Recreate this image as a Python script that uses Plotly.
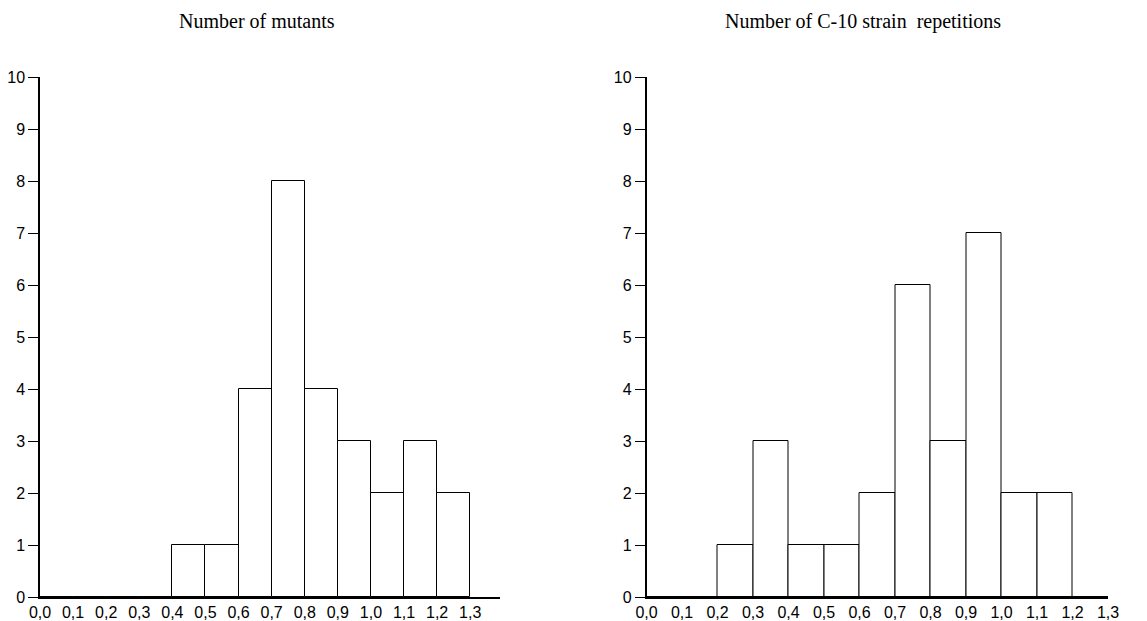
import plotly.graph_objects as go

# Data
bin_starts = [0.0, 0.1, 0.2, 0.3, 0.4, 0.5, 0.6, 0.7, 0.8, 0.9, 1.0, 1.1, 1.2]
mutants = [0, 0, 0, 0, 1, 1, 4, 8, 4, 3, 2, 3, 2]
c10_repetitions = [0, 0, 1, 3, 1, 1, 2, 6, 3, 7, 2, 2, 0]
x_tick_vals = [0.0, 0.1, 0.2, 0.3, 0.4, 0.5, 0.6, 0.7, 0.8, 0.9, 1.0, 1.1, 1.2, 1.3]
x_tick_text = ["0,0", "0,1", "0,2", "0,3", "0,4", "0,5", "0,6", "0,7", "0,8", "0,9", "1,0", "1,1", "1,2", "1,3"]
y_tick_vals = list(range(0, 11))
titles = ["Number of mutants", "Number of C-10 strain  repetitions"]

# figure is placed at (8, 8) in the page by the default body margin
W, H = 1139, 613
OFF = 8


def px_x(page_x):
    return (page_x - OFF) / W


def px_y(page_y):
    return 1 - (page_y - OFF) / H


centers = [round(b + 0.05, 3) for b in bin_starts]

fig = go.Figure()
for i, vals in enumerate([mutants, c10_repetitions]):
    fig.add_trace(go.Bar(
        x=centers, y=vals, width=0.1,
        marker=dict(color="white", line=dict(color="black", width=1)),
        xaxis="x" if i == 0 else "x2", yaxis="y" if i == 0 else "y2",
        showlegend=False, hoverinfo="x+y",
    ))

ydom = [px_y(597), px_y(77)]
tick_font = dict(family="Liberation Sans, Arial", size=16, color="black")
xcommon = dict(
    tickmode="array", tickvals=x_tick_vals, ticktext=x_tick_text,
    showgrid=False, zeroline=False, showline=True, linecolor="black", linewidth=2,
    ticks="", tickfont=tick_font, automargin=False, fixedrange=True,
)
ycommon = dict(
    range=[0, 10], tickmode="array", tickvals=y_tick_vals,
    showgrid=False, zeroline=False, showline=True, linecolor="black", linewidth=1.5,
    ticks="outside", ticklen=10, tickwidth=1.2, tickcolor="black",
    tickfont=tick_font, automargin=False, domain=ydom, fixedrange=True,
    ticklabelstandoff=0,
)

title_font = dict(family="Liberation Serif, Times New Roman", size=20, color="black")
fig.update_layout(
    width=W, height=H,
    margin=dict(l=0, r=0, t=0, b=0),
    paper_bgcolor="white", plot_bgcolor="white",
    bargap=0,
    xaxis=dict(domain=[px_x(40), px_x(500)], range=[0, 1.39], anchor="y", **xcommon),
    yaxis=dict(anchor="x", **ycommon),
    xaxis2=dict(domain=[px_x(646.5), px_x(1108)], range=[0, 1.3], anchor="y2", **xcommon),
    yaxis2=dict(anchor="x2", **ycommon),
    annotations=[
        dict(text=titles[0], x=px_x(257), y=px_y(21), xref="paper", yref="paper",
             showarrow=False, xanchor="center", yanchor="middle", font=title_font),
        dict(text=titles[1], x=px_x(863), y=px_y(21), xref="paper", yref="paper",
             showarrow=False, xanchor="center", yanchor="middle", font=title_font),
    ],
)

fig.write_html("out.html")
